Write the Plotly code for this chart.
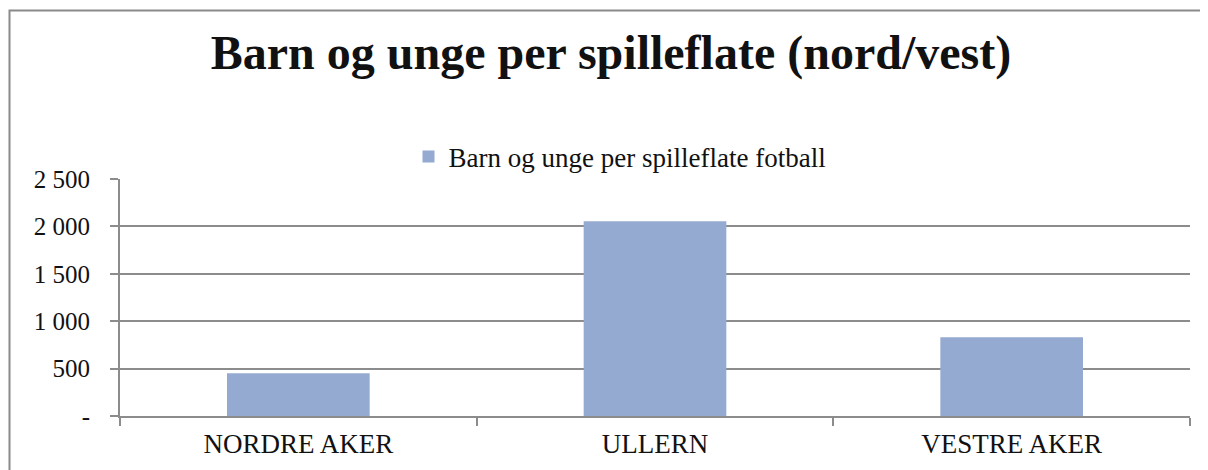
import plotly.graph_objects as go

# data
bydeler = ["NORDRE AKER", "ULLERN", "VESTRE AKER"]
barn_per_flate = [450, 2055, 830]
serie_navn = "Barn og unge per spilleflate fotball"
y_ticks = [0, 500, 1000, 1500, 2000, 2500]
y_tick_labels = ["-", "500", "1 000", "1 500", "2 000", "2 500"]

FONT = "Liberation Serif"
GRID = "#8C8C8C"
# page body adds an 8px offset, so the figure is laid out 8px up/left
OFF = 8
W, H = 1200, 462
L, R = 120 - OFF, W - (1190 - OFF)
T, B = 179 - OFF, H - (416 - OFF)

fig = go.Figure()
fig.add_trace(go.Bar(
    x=bydeler, y=barn_per_flate, name=serie_navn,
    marker=dict(color="#95AAD1", line=dict(width=0)),
    showlegend=True
))

# outer chart border (left/top visible, right/bottom off-canvas)
pw, ph = W - L - R, H - T - B
fig.add_shape(
    type="rect", xref="paper", yref="paper",
    x0=(9.5 - OFF - L) / pw, x1=(1215 - L) / pw,
    y0=(H - B - 480) / ph, y1=(H - B - (10.5 - OFF)) / ph,
    line=dict(color="#8A8A8A", width=2), layer="above"
)

fig.update_layout(
    width=W, height=H,
    margin=dict(l=L, r=R, t=T, b=B),
    plot_bgcolor="white", paper_bgcolor="white",
    font=dict(family=FONT, size=27, color="#111111"),
    bargap=0.6,
    title=dict(
        text="<b>Barn og unge per spilleflate (nord/vest)</b>",
        font=dict(family=FONT, size=48, color="#111111"),
        x=(611 - OFF) / W, xanchor="center", y=1 - (52 - OFF) / H, yanchor="middle", yref="container"
    ),
    legend=dict(
        orientation="h", x=(620 - OFF - L) / pw, xanchor="center",
        y=(H - B - (157 - OFF)) / ph, yanchor="middle",
        font=dict(family=FONT, size=27), itemwidth=30,
        bgcolor="rgba(0,0,0,0)"
    ),
    xaxis=dict(
        showline=True, linecolor=GRID, linewidth=2,
        ticks="outside", tickson="boundaries", ticklen=8, tickcolor=GRID, tickwidth=2,
        showgrid=False, ticklabelstandoff=3
    ),
    yaxis=dict(
        range=[0, 2500], tickvals=y_ticks, ticktext=y_tick_labels,
        tickfont=dict(family=FONT, size=25),
        showline=True, linecolor=GRID, linewidth=2,
        ticks="outside", ticklen=8, tickcolor=GRID, tickwidth=2,
        showgrid=True, gridcolor=GRID, gridwidth=2, zeroline=False,
        ticklabelstandoff=15
    ),
)

fig.write_html("out.html")
